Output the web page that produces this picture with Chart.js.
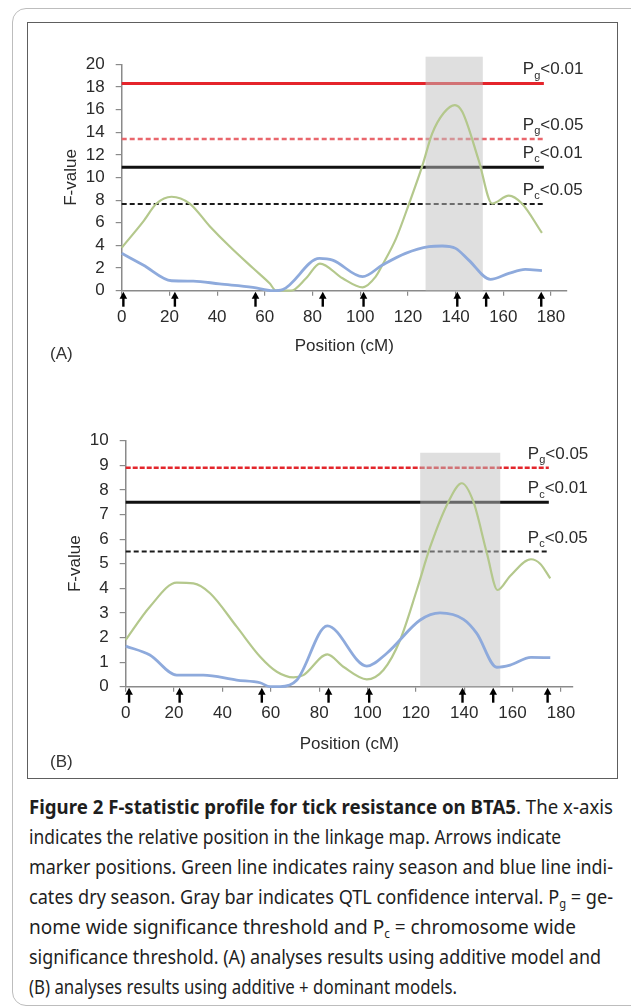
<!DOCTYPE html>
<html>
<head>
<meta charset="utf-8">
<script src="https://cdn.jsdelivr.net/npm/chart.js@4.4.1/dist/chart.umd.min.js"></script>
<style>
  body { margin: 0; width: 631px; height: 1007px; overflow: hidden; position: relative; background: #fff; }
  #outer { position: absolute; left: 12px; top: 8px; width: 650px; height: 996px; border: 1px solid #bdbdbd; border-radius: 14px; }
  #frame { position: absolute; left: 27px; top: 22px; width: 589px; height: 755px; border: 1.5px solid #5e5e5e; }
  canvas { position: absolute; left: 0; }
  #cA { top: 0; }
  #cB { top: 400px; }
  .panel { position: absolute; left: 50px; font: 17px "Liberation Sans", Arial, sans-serif; color: #333; }
  .cap { position: absolute; left: 29px; height: 30px; line-height: 30px; white-space: nowrap;
         font: 19.5px "Noto Sans", "Open Sans", sans-serif; color: #1e1e1e; }
  .cap span { display: inline-block; transform-origin: 0 50%; }
  .cap sub { font-size: 12px; vertical-align: -4px; line-height: 0; }
</style>
</head>
<body>
<div id="outer"></div>
<div id="frame"></div>
<canvas id="cA" width="631" height="400"></canvas>
<canvas id="cB" width="631" height="380"></canvas>
<div class="panel" style="top:344px">(A)</div>
<div class="panel" style="top:752px">(B)</div>

<div class="cap" data-w="584" style="top:793px"><span><b>Figure 2 F-statistic profile for tick resistance on BTA5</b>. The x-axis</span></div>
<div class="cap" data-w="532" style="top:823px"><span>indicates the relative position in the linkage map. Arrows indicate</span></div>
<div class="cap" data-w="584" style="top:853px"><span>marker positions. Green line indicates rainy season and blue line indi-</span></div>
<div class="cap" data-w="584" style="top:883px"><span>cates dry season. Gray bar indicates QTL confidence interval. P<sub>g</sub> = ge-</span></div>
<div class="cap" data-w="547" style="top:913px"><span>nome wide significance threshold and P<sub>c</sub> = chromosome wide</span></div>
<div class="cap" data-w="572" style="top:943px"><span>significance threshold. (A) analyses results using additive model and</span></div>
<div class="cap" data-w="428" style="top:973px"><span>(B) analyses results using additive + dominant models.</span></div>

<script>
// ---- panel A (additive model) ----
const greenPosA = [0, 9, 14.6, 20.9, 28.5, 36.9, 45.3, 55, 62, 64.8, 71, 77.3, 83.1, 92.6, 101, 106.5, 109.3, 115, 120.5, 126, 130.2, 135, 139.7, 142.8, 149.7, 155.3, 162.3, 167.8, 176.2];
const greenValA = [3.8, 6.1, 7.7, 8.3, 7.7, 5.7, 3.9, 2.0, 0.65, 0, 0, 1.1, 2.4, 1.1, 0.3, 1.24, 2.27, 4.6, 7.7, 11, 13.9, 15.7, 16.4, 15.8, 11.5, 7.7, 8.4, 7.7, 5.1];
const bluePosA = [0, 9, 20.9, 30, 41, 55, 63.4, 67.5, 82.9, 88.4, 101, 109.3, 119, 128.8, 134.4, 140, 145.5, 154.6, 162.3, 169.2, 176.2];
const blueValA = [3.3, 2.27, 0.88, 0.85, 0.6, 0.3, 0, 0.1, 2.85, 2.7, 1.24, 2.27, 3.3, 3.89, 3.95, 3.74, 2.7, 1.0, 1.53, 1.88, 1.77];
const markersA = [0.7, 22.3, 56.1, 84.3, 101.4, 140.7, 152.8, 175.9];
const bandA = [127.4, 151.4, 20.67];          // start cM, end cM, top F
const thresholdsA = [18.3, 13.4, 10.9, 7.65];
const thresholdLabelsA = ['Pg<0.01', 'Pg<0.05', 'Pc<0.01', 'Pc<0.05'];
const thresholdEndA = 177;

// ---- panel B (additive + dominant) ----
const greenPosB = [0, 10, 21.1, 28, 34.9, 45.9, 55.6, 62.5, 69.4, 73.5, 83.4, 90, 99.7, 106.6, 113.5, 120.4, 126, 133.5, 139, 143.8, 149.4, 153.8, 159, 167.6, 171.4, 175.6];
const greenValB = [1.9, 3.25, 4.23, 4.2, 3.8, 2.44, 1.22, 0.61, 0.38, 0.47, 1.31, 0.81, 0.3, 0.68, 1.9, 3.93, 5.7, 7.52, 8.27, 7.52, 5.42, 3.93, 4.5, 5.18, 5.0, 4.4];
const bluePosB = [0, 10, 21.1, 32.1, 45.9, 55.6, 59.7, 63.9, 70.8, 83.4, 99.7, 108, 121.8, 130, 139.7, 145.2, 153.5, 159, 167.6, 175.6];
const blueValB = [1.65, 1.29, 0.47, 0.47, 0.27, 0.16, 0, 0, 0.27, 2.47, 0.84, 1.36, 2.71, 3.0, 2.74, 2.17, 0.79, 0.88, 1.19, 1.18];
const markersB = [1.4, 22.3, 56.3, 83.9, 100.7, 139.3, 152, 174.5];
const bandB = [121.8, 154.9, 9.51];
const thresholdsB = [8.9, 7.5, 5.5];
const thresholdLabelsB = ['Pg<0.05', 'Pc<0.01', 'Pc<0.05'];
const thresholdEndB = 175;

const FONT = '"Liberation Sans", Arial, sans-serif';
const TEXT = '#2b2b2b';
const AXIS = '#8a8a8a';
const GREEN = '#b4c88c';
const BLUE = '#8eaadc';

const styleA = [
    { color: '#e5242b', width: 3, dash: [] },
    { color: '#e9666c', width: 2.4, dash: [5, 3] },
    { color: '#111111', width: 3, dash: [] },
    { color: '#1a1a1a', width: 2, dash: [5, 3] }
];
const styleB = [
    { color: '#e3262c', width: 2.5, dash: [5, 2] },
    { color: '#111111', width: 3, dash: [] },
    { color: '#1a1a1a', width: 2, dash: [5, 3] }
];

function curve(xs, ys, color, w) {
    return {
        data: xs.map((v, i) => ({ x: v, y: ys[i] })),
        borderColor: color, borderWidth: w, showLine: true, pointRadius: 0,
        cubicInterpolationMode: 'monotone', clip: 4
    };
}

function threshold(value, end, st) {
    return {
        data: [{ x: 0, y: value }, { x: end, y: value }],
        borderColor: st.color, borderWidth: st.width, borderDash: st.dash,
        showLine: true, pointRadius: 0, clip: 4
    };
}

// 灰色置信区间、箭头和阈值标签
const overlay = {
    id: 'overlay',
    beforeDatasetDraw(chart, args, opts) {
        if (args.index !== 1) return; // under the green curve, over the thresholds
        const { ctx, scales: { x, y } } = chart;
        const l = x.getPixelForValue(opts.band[0]);
        const r = x.getPixelForValue(opts.band[1]);
        const t = y.getPixelForValue(opts.band[2]);
        const b = y.getPixelForValue(0);
        ctx.save();
        ctx.fillStyle = 'rgba(192,192,192,0.5)';
        ctx.fillRect(l, t, r - l, b - t);
        ctx.restore();
    },
    afterDraw(chart, args, opts) {
        const { ctx, scales: { x, y } } = chart;
        const base = y.getPixelForValue(0) + 1;
        ctx.save();
        ctx.fillStyle = '#000';
        opts.markers.forEach(m => {
            const px = x.getPixelForValue(m);
            ctx.beginPath();
            ctx.moveTo(px, base);
            ctx.lineTo(px - 3.8, base + 7);
            ctx.lineTo(px + 3.8, base + 7);
            ctx.closePath();
            ctx.fill();
            ctx.fillRect(px - 1.2, base + 6, 2.4, 9);
        });

        ctx.fillStyle = TEXT;
        ctx.textBaseline = 'middle';
        ctx.textAlign = 'left';
        const lx = x.getPixelForValue(opts.end) - 21;
        opts.values.forEach((v, i) => {
            const txt = opts.labels[i];
            const cy = y.getPixelForValue(v) - opts.lift;
            let px = lx;
            ctx.font = '17px ' + FONT;
            ctx.fillText(txt[0], px, cy);
            px += ctx.measureText(txt[0]).width;
            ctx.font = '11px ' + FONT;
            ctx.fillText(txt[1], px, cy + 6);
            px += ctx.measureText(txt[1]).width;
            ctx.font = '17px ' + FONT;
            ctx.fillText(txt.slice(2), px, cy);
        });
        ctx.restore();
    }
};

function makeChart(id, g) {
    const datasets = [
        curve(g.bluePos, g.blueVal, BLUE, 2.8),
        curve(g.greenPos, g.greenVal, GREEN, 2.2)
    ];
    g.thresholds.forEach((v, i) => datasets.push(threshold(v, g.end, g.styles[i])));

    return new Chart(document.getElementById(id), {
        type: 'scatter',
        data: { datasets },
        options: {
            responsive: false,
            animation: false,
            events: [],
            layout: { padding: { left: 0, top: g.padTop, right: g.padRight, bottom: 0 } },
            plugins: {
                legend: { display: false },
                tooltip: { enabled: false },
                overlay: {
                    band: g.band, markers: g.markers, values: g.thresholds,
                    labels: g.labels, end: g.end, lift: g.lift
                }
            },
            scales: {
                x: {
                    type: 'linear', min: 0, max: g.xMax,
                    afterFit: s => { s.height = g.xHeight; },
                    border: { color: AXIS, width: 1.5 },
                    grid: { drawOnChartArea: false, tickLength: 5, color: AXIS, lineWidth: 1.2 },
                    ticks: {
                        stepSize: 20, includeBounds: false, autoSkip: false, maxRotation: 0,
                        padding: 11, color: TEXT, font: { family: FONT, size: 17 }
                    },
                    title: {
                        display: true, text: 'Position (cM)', color: TEXT,
                        font: { family: FONT, size: 17 }, padding: { top: 0, bottom: g.xTitlePad }
                    }
                },
                y: {
                    min: 0, max: g.yMax,
                    afterFit: s => { s.width = g.yWidth; },
                    border: { color: AXIS, width: 1.5 },
                    grid: { drawOnChartArea: false, tickLength: 6, color: AXIS, lineWidth: 1.2 },
                    ticks: {
                        stepSize: g.yStep, autoSkip: false, padding: 11, color: TEXT,
                        font: { family: FONT, size: 17 }
                    },
                    title: {
                        display: true, text: 'F-value', color: TEXT,
                        font: { family: FONT, size: 17 }, padding: { top: g.yTitlePad, bottom: 0 }
                    }
                }
            }
        },
        plugins: [overlay]
    });
}

makeChart('cA', {
    greenPos: greenPosA, greenVal: greenValA, bluePos: bluePosA, blueVal: blueValA,
    markers: markersA, band: bandA, thresholds: thresholdsA, labels: thresholdLabelsA,
    end: thresholdEndA, styles: styleA,
    xMax: 186.7, yMax: 20, yStep: 2,
    padTop: 64.3, padRight: 64, xHeight: 109.3, yWidth: 121.7,
    xTitlePad: 43, yTitlePad: 61.5, lift: 14
});

makeChart('cB', {
    greenPos: greenPosB, greenVal: greenValB, bluePos: bluePosB, blueVal: blueValB,
    markers: markersB, band: bandB, thresholds: thresholdsB, labels: thresholdLabelsB,
    end: thresholdEndB, styles: styleB,
    xMax: 185, yMax: 10, yStep: 1,
    padTop: 40.7, padRight: 58, xHeight: 93.3, yWidth: 125.7,
    xTitlePad: 25.8, yTitlePad: 64.8, lift: 13.5
});

// 图注每行按原图宽度拉伸
document.querySelectorAll('.cap').forEach(el => {
    const span = el.firstElementChild;
    const w = span.getBoundingClientRect().width;
    span.style.transform = 'scaleX(' + (el.dataset.w / w) + ')';
});
</script>
</body>
</html>
